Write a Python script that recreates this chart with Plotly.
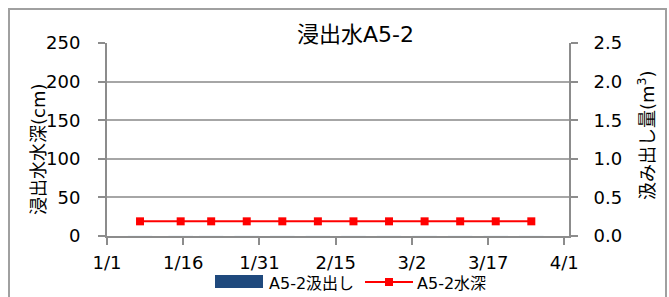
import pandas as pd
import plotly.graph_objects as go

# ---- data ----
dates = ["2021-01-07", "2021-01-15", "2021-01-21", "2021-01-28", "2021-02-04", "2021-02-11",
         "2021-02-18", "2021-02-25", "2021-03-04", "2021-03-11", "2021-03-18", "2021-03-25"]
depth_cm = [19, 19, 19, 19, 19, 19, 19, 19, 19, 19, 19, 19]
pumped_m3 = [0, 0, 0, 0, 0, 0, 0, 0, 0, 0, 0, 0]
tick_dates = ["2021-01-01", "2021-01-16", "2021-01-31", "2021-02-15", "2021-03-02", "2021-03-17", "2021-04-01"]
tick_labels = ["1/1", "1/16", "1/31", "2/15", "3/2", "3/17", "4/1"]

title = "浸出水A5-2"
y1_title = "浸出水水深(cm)"
y2_title = "汲み出し量(m<sup>3</sup>)"
bar_name = "A5-2汲出し"
line_name = "A5-2水深"

# Excel date axis places each day in the middle of its slot
x_pts = pd.to_datetime(dates) + pd.Timedelta(hours=12)

FONT = "DejaVu Sans, Verdana, Noto Sans CJK JP, sans-serif"
W, H = 669, 297
L, R, T, B = 107, 100, 43, 61
GRID = "#A6A6A6"
AX = "#8C8C8C"
BAR_C = "#1F497D"
LINE_C = "#FF0000"

pw = W - L - R
ph = H - T - B


def px(xp):
    return (xp - L) / pw


def py(yp):
    return (T + ph - yp) / ph


fig = go.Figure()
fig.add_trace(go.Bar(x=x_pts, y=pumped_m3, name=bar_name, yaxis="y2",
                     marker_color=BAR_C, showlegend=False))
fig.add_trace(go.Scatter(x=x_pts, y=depth_cm, name=line_name, mode="lines+markers",
                         line=dict(color=LINE_C, width=2),
                         marker=dict(symbol="square", size=8, color=LINE_C),
                         showlegend=False))

axis_common = dict(ticks="outside", ticklen=7, tickwidth=2, tickcolor=AX,
                   showline=True, linecolor=AX, linewidth=2, zeroline=False,
                   tickfont=dict(size=18), automargin=False)

leg_y = 282
shapes = [
    dict(type="rect", xref="paper", yref="paper",
         x0=px(9), x1=px(666), y0=py(320), y1=py(9),
         line=dict(color="#A0A0A0", width=2), fillcolor="rgba(0,0,0,0)", layer="below"),
    # legend: bar swatch
    dict(type="rect", xref="paper", yref="paper",
         x0=px(215), x1=px(263), y0=py(288), y1=py(275),
         line=dict(width=0), fillcolor=BAR_C),
    # legend: line swatch
    dict(type="line", xref="paper", yref="paper",
         x0=px(365), x1=px(413), y0=py(leg_y), y1=py(leg_y),
         line=dict(color=LINE_C, width=2)),
    dict(type="rect", xref="paper", yref="paper",
         x0=px(385), x1=px(393), y0=py(leg_y + 4), y1=py(leg_y - 4),
         line=dict(width=0), fillcolor=LINE_C),
]

annotations = [
    dict(text=title, xref="paper", yref="paper", x=px(355), y=py(34),
         xanchor="center", yanchor="middle", showarrow=False,
         font=dict(size=22, family=FONT)),
    dict(text=y1_title, xref="paper", yref="paper", x=px(38), y=py(150),
         xanchor="center", yanchor="middle", showarrow=False, textangle=-90,
         font=dict(size=18, family=FONT)),
    dict(text=y2_title, xref="paper", yref="paper", x=px(646), y=py(135),
         xanchor="center", yanchor="middle", showarrow=False, textangle=-90,
         font=dict(size=18, family=FONT)),
    dict(text=bar_name, xref="paper", yref="paper", x=px(267), y=py(leg_y + 1),
         xanchor="left", yanchor="middle", showarrow=False,
         font=dict(size=16, family=FONT)),
    dict(text=line_name, xref="paper", yref="paper", x=px(415), y=py(leg_y + 1),
         xanchor="left", yanchor="middle", showarrow=False,
         font=dict(size=16, family=FONT)),
]

fig.update_layout(
    width=W, height=H,
    margin=dict(l=L, r=R, t=T, b=B, pad=0),
    paper_bgcolor="white", plot_bgcolor="white",
    font=dict(family=FONT, size=18, color="#000000"),
    showlegend=False,
    xaxis=dict(type="date",
               range=["2021-01-01", "2021-04-01 22:00"],
               tickmode="array", tickvals=tick_dates, ticktext=tick_labels,
               showgrid=False, ticklabelstandoff=2, **axis_common),
    yaxis=dict(range=[0, 250], dtick=50, tick0=0,
               showgrid=True, gridcolor=GRID, gridwidth=2,
               ticklabelstandoff=14, **axis_common),
    yaxis2=dict(range=[0, 2.5], dtick=0.5, tick0=0, tickformat=".1f",
                overlaying="y", side="right", showgrid=False,
                ticklabelstandoff=12, **axis_common),
    annotations=annotations,
    shapes=shapes,
)

fig.write_html("out.html", config={"displayModeBar": False},
               post_script="document.body.style.margin='0';document.body.style.overflow='hidden';")
